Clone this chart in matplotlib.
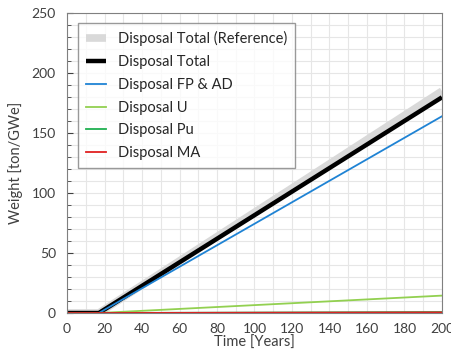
import matplotlib.pyplot as plt
from matplotlib.ticker import MultipleLocator

plt.rcParams['font.family'] = ['Lato', 'DejaVu Sans']

# time points (years) and accumulated disposal weight (ton/GWe)
years = [0, 17, 200]
fp_ad = [0, 0, 164]
uranium = [0, 0, 14.5]
plutonium = [0, 0, 0.8]
minor_act = [0, 0, 0.5]
total_ref = [0, 0, 185]
total = [f + u + p + m for f, u, p, m in zip(fp_ad, uranium, plutonium, minor_act)]

fig = plt.figure(figsize=(4.51, 3.54), dpi=100)
ax = fig.add_axes([0.1486, 0.1158, 0.8314, 0.8472])

ax.plot(years, total_ref, color='#d9d9d9', lw=5.5, label='Disposal Total (Reference)', solid_capstyle='butt')
ax.plot(years, total, color='black', lw=3.2, label='Disposal Total', solid_capstyle='butt')
ax.plot(years, fp_ad, color='#1f83d4', lw=1.3, label='Disposal FP & AD')
ax.plot(years, uranium, color='#92d050', lw=1.3, label='Disposal U')
ax.plot(years, plutonium, color='#1fb050', lw=1.3, label='Disposal Pu')
ax.plot(years, minor_act, color='#e02020', lw=1.3, label='Disposal MA')

ax.set_xlim(0, 200)
ax.set_ylim(0, 250)
ax.xaxis.set_major_locator(MultipleLocator(20))
ax.xaxis.set_minor_locator(MultipleLocator(10))
ax.yaxis.set_major_locator(MultipleLocator(50))
ax.yaxis.set_minor_locator(MultipleLocator(10))
ax.grid(which='both', color='#e6e6e6', lw=0.8)
ax.set_axisbelow(True)
ax.tick_params(which='both', direction='in', colors='#404040', labelsize=10)
ax.tick_params(which='major', length=4)
ax.tick_params(which='minor', length=3)
ax.tick_params(axis='x', which='both', length=0, pad=7)
ax.tick_params(axis='y', pad=8)
for s in ax.spines.values():
    s.set_color('#808080')

ax.set_xlabel('Time [Years]', fontsize=10.5, color='#404040', labelpad=1)
ax.set_ylabel('Weight [ton/GWe]', fontsize=10.5, color='#404040', labelpad=6)

leg = ax.legend(loc='upper left', fontsize=10.5, frameon=True, fancybox=False,
                edgecolor='#808080', handlelength=1.4, labelspacing=0.6,
                borderpad=0.55, bbox_to_anchor=(0.01, 0.99))
for t in leg.get_texts():
    t.set_color('#262626')

fig.savefig('out.png', dpi=100)
